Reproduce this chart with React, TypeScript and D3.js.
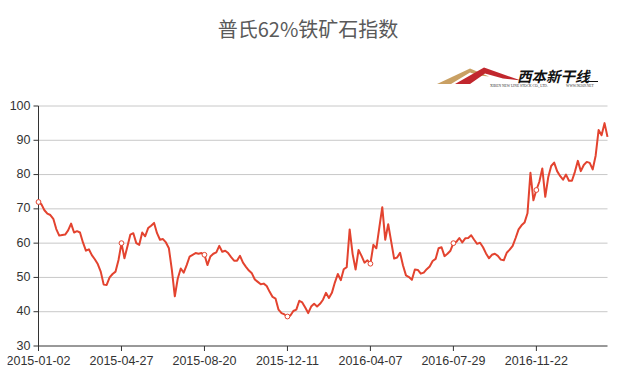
import React from "react";
import * as d3 from "d3";

// 普氏62%铁矿石指数, one value per ~3 trading days
const values = [
  72.0, 71.3, 69.6, 68.6, 68.2, 67.1, 64.1, 62.2, 62.4, 62.5,
  63.7, 65.7, 63.1, 63.5, 63.1, 60.2, 57.8, 58.2, 56.5, 55.3,
  53.9, 51.7, 47.9, 47.8, 50.0, 51.0, 51.7, 55.1, 60.0, 55.6,
  59.0, 62.5, 62.9, 60.0, 59.5, 63.1, 62.0, 64.4, 65.1, 65.9,
  62.9, 61.0, 61.2, 60.2, 58.5, 52.2, 44.5, 49.7, 52.6, 51.4,
  53.6, 56.1, 56.6, 57.1, 56.9, 57.1, 56.6, 53.6, 56.1, 56.9,
  57.3, 59.2, 57.5, 57.8, 57.1, 55.9, 54.9, 54.9, 56.3, 54.3,
  53.1, 52.0, 51.2, 49.4, 48.7, 48.0, 48.2, 47.5, 45.8, 44.3,
  43.8, 40.6, 39.6, 39.2, 38.6, 38.9, 40.2, 40.6, 43.2, 42.7,
  41.2, 39.6, 41.5, 42.3, 41.5, 42.3, 43.5, 45.5, 44.0, 45.5,
  48.5, 51.0, 49.2, 52.4, 53.0, 64.0, 56.8, 52.3, 58.0, 56.3,
  54.3, 55.0, 54.0, 59.5, 58.5, 64.5, 70.5, 61.0, 65.5, 60.5,
  55.5, 55.8, 57.2, 53.5, 50.6, 50.1, 49.3, 52.3, 52.2, 51.1,
  51.4, 52.4, 53.2, 54.8, 55.4, 58.5, 58.8, 56.2, 56.9, 57.8,
  60.0, 60.4, 61.5, 60.2, 61.4, 61.5, 62.3, 61.0, 59.8, 60.1,
  58.8, 57.0, 55.6, 56.6, 56.9, 56.3, 55.2, 55.0, 57.2, 58.1,
  59.2, 61.5, 64.0, 65.2, 66.0, 68.7, 80.5, 72.5, 75.5, 77.9,
  81.8, 73.5, 79.2, 82.5, 83.5, 81.0, 79.6, 78.5, 80.0, 78.2,
  78.2, 80.8, 84.0, 81.0, 82.8, 83.7, 83.4, 81.5, 85.5, 93.0,
  91.5, 95.0, 91.0,
];

const tickLabels = ["2015-01-02", "2015-04-27", "2015-08-20", "2015-12-11", "2016-04-07", "2016-07-29", "2016-11-22"];
const tickIndex = [0, 28, 56, 84, 112, 140, 168];
const yTicks = [30, 40, 50, 60, 70, 80, 90, 100];

const W = 621;
const H = 374;
const left = 38.5;
const right = 607.5;
const top = 106;
const bottom = 346;
const red = "#e3432f";
const numFont = "'Liberation Sans', Arial, sans-serif";

const Logo = () => (
  <g>
    <polygon points="437,84 470,68.5 489,76.5 479,75.5 470,72.5 451,84" fill="#c9a063" />
    <polygon points="455,84 484,67.5 521,80.5 503,78.5 485,73.5 470,84" fill="#c1272d" />
    <text x={517} y={81.5} fontSize={14.5} fontWeight="bold" fontStyle="italic"
      fontFamily="'Noto Sans CJK SC', sans-serif" fill="#111">西本新干线</text>
    <line x1={585} y1={81.5} x2={598} y2={81.5} stroke="#111" strokeWidth={1} />
    <text x={490} y={87} fontSize={3.6} fontFamily="'Liberation Serif', serif" fill="#333">
      XIBEN NEW LINE STOCK CO., LTD.
    </text>
    <text x={566} y={87} fontSize={3.6} fontFamily="'Liberation Serif', serif" fill="#333">
      WWW.96369.NET
    </text>
  </g>
);

export default function App() {
  const x = d3.scaleLinear().domain([0, values.length - 1]).range([left, right]);
  const y = d3.scaleLinear().domain([30, 100]).range([bottom, top]);
  const line = d3
    .line<number>()
    .x((_, i) => x(i))
    .y((d) => y(d));

  return (
    <div style={{ position: "fixed", left: 0, top: 0, width: W, height: H, background: "#fff" }}>
      <svg width={W} height={H}>
        <rect width={W} height={H} fill="#fff" />
        <text x={308} y={37} textAnchor="middle" fontSize={20}
          fontFamily="'Noto Sans CJK SC', sans-serif" fill="#5a5a5a">
          普氏62%铁矿石指数
        </text>
        <Logo />

        {yTicks.map((t) => (
          <g key={t}>
            {t > 30 && <line x1={left} x2={right} y1={y(t)} y2={y(t)} stroke="#c8c8c8" strokeWidth={1} />}
            <line x1={left - 5} x2={left} y1={y(t)} y2={y(t)} stroke="#333" />
            <text x={left - 8} y={y(t) - 0.5} textAnchor="end" dominantBaseline="central"
              fontSize={12.5} fontFamily={numFont} fill="#333">{t}</text>
          </g>
        ))}

        <line x1={left} x2={left} y1={top} y2={bottom} stroke="#333" />
        <line x1={left} x2={right} y1={bottom} y2={bottom} stroke="#333" />
        {tickIndex.map((idx, k) => (
          <g key={idx}>
            <line x1={x(idx)} x2={x(idx)} y1={bottom} y2={bottom + 5} stroke="#333" />
            <text x={x(idx)} y={364.5} textAnchor="middle" fontSize={12.5}
              fontFamily={numFont} fill="#333">{tickLabels[k]}</text>
          </g>
        ))}

        <path d={line(values) ?? ""} fill="none" stroke={red} strokeWidth={2} strokeLinejoin="round" />
        {tickIndex.map((idx) => (
          <circle key={idx} cx={x(idx)} cy={y(values[idx])} r={2.4} fill="#fff" stroke={red} strokeWidth={1} />
        ))}

        <rect x={0} y={340} width={7.5} height={34} fill="#fff" />
      </svg>
    </div>
  );
}
